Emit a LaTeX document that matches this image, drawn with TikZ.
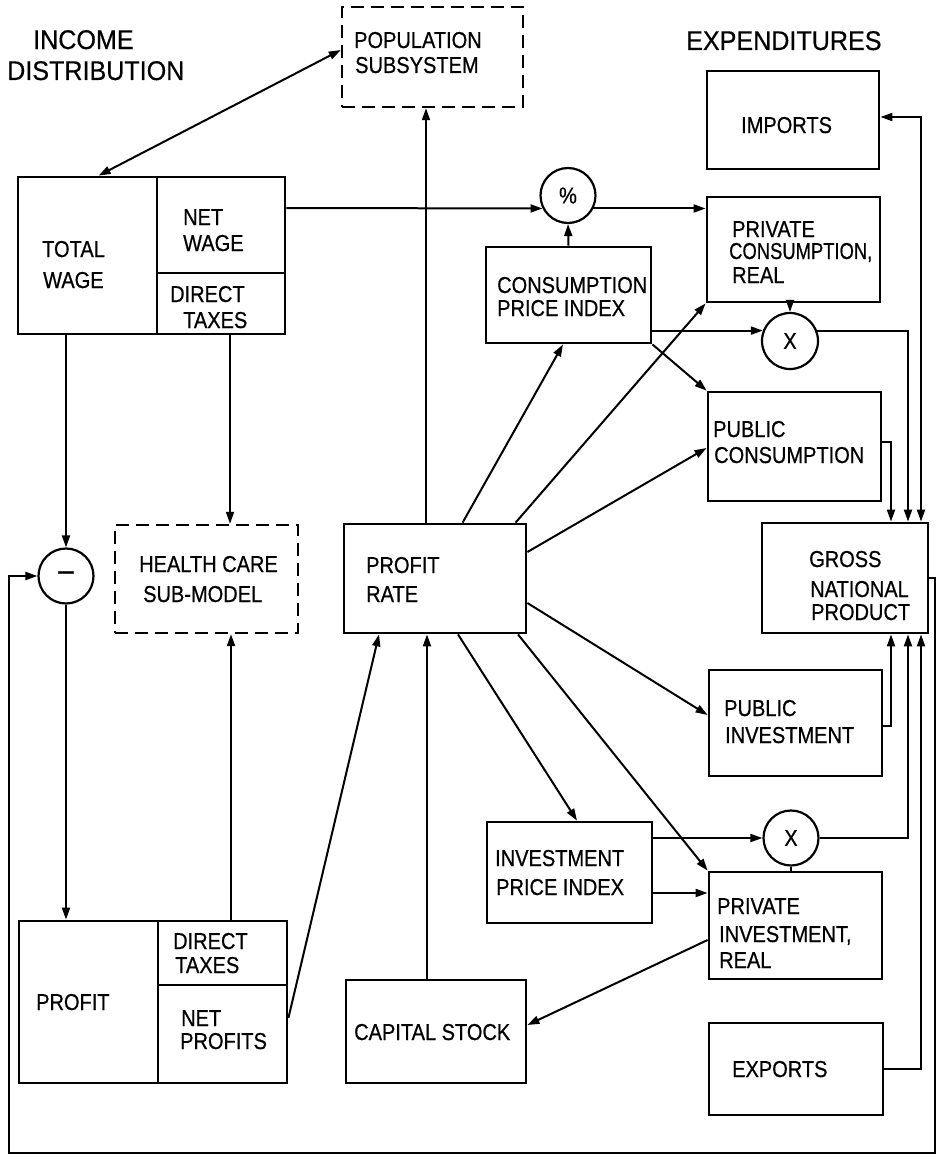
\documentclass[tikz,border=0pt]{standalone}
\usepackage{fontspec}
\usetikzlibrary{arrows.meta}
\newfontfamily\lblfont[FakeStretch=0.87,FakeBold=0.6]{Liberation Sans}
\newfontfamily\tightfont[FakeStretch=0.8,FakeBold=0.6]{Liberation Sans}
\newfontfamily\headfont[FakeStretch=0.93,FakeBold=0.4]{Liberation Sans}

% box from (x1,y1) to (x2,y2), y running downwards
\newcommand\mkbox[6][]{%
  \node[boxline,#1,minimum width={(#5-#3)*1pt},minimum height={(#6-#4)*1pt}]
    (#2) at ({(#3+#5)/2},{(#4+#6)/2}) {};}
% one line of lettering, placed by its left end on the baseline
\newcommand\mklbl[5][]{\node[lbl,#1] (#2) at (#3,#4) {#5};}

\begin{document}
\begin{tikzpicture}[x=1pt,y=-1pt,
  boxline/.style={draw,line width=2.8pt,inner sep=0pt},
  dashbox/.style={boxline,line width=2.4pt,dash pattern=on 13pt off 7pt},
  op/.style={draw,circle,line width=2.2pt,inner sep=0pt,minimum size=55pt,
    font=\lblfont\fontsize{23}{26}\selectfont},
  lbl/.style={anchor=base west,inner sep=0pt,font=\lblfont\fontsize{23}{26}\selectfont},
  tight/.style={font=\tightfont\fontsize{23}{26}\selectfont},
  big/.style={font=\headfont\fontsize{27}{30}\selectfont},
  >={Triangle[length=12pt,width=8pt]},
  conn/.style={line width=2pt},
  arr/.style={conn,->},
  darr/.style={conn,<->}]

\useasboundingbox (0,0) rectangle (943,1156);

% headings
\mklbl[big]{tInc}{33}{49}{INCOME}
\mklbl[big]{tDist}{7}{80}{DISTRIBUTION}
\mklbl[big]{tExp}{686}{50}{EXPENDITURES}

% boxes
\mkbox[dashbox]{pop}{342}{7}{523}{107}
\mkbox{imports}{707}{71}{879}{169}
\mkbox{totwage}{18}{177}{157}{334}
\mkbox{netwage}{157}{177}{285}{273}
\mkbox{wagetax}{157}{273}{285}{334}
\mkbox{privcons}{707}{197}{880}{302}
\mkbox{cpi}{486}{247}{651}{343}
\mkbox{pubcons}{708}{392}{881}{501}
\mkbox[dashbox]{health}{115}{525}{298}{633}
\mkbox{profrate}{344}{524}{526}{633}
\mkbox{gnp}{762}{523}{928}{633}
\mkbox{pubinv}{709}{670}{882}{776}
\mkbox{ipi}{487}{822}{652}{923}
\mkbox{privinv}{709}{872}{882}{979}
\mkbox{exports}{709}{1023}{883}{1115}
\mkbox{profit}{19}{921}{158}{1083}
\mkbox{proftax}{158}{921}{287}{985}
\mkbox{netprof}{158}{985}{287}{1083}
\mkbox{capital}{346}{980}{526}{1083}

% operators
\node[op] (pct) at (568,195.5) {\%};
\node[op,minimum size=56pt] (xc) at (790,341) {X};
\node[op] (xi) at (791,838) {X};
\node[op,font=\lblfont\fontsize{32}{32}\selectfont] (minus) at (66,576) {–};

% lettering
\mklbl{tPop1}{354}{48}{POPULATION}
\mklbl{tPop2}{355}{73}{SUBSYSTEM}
\mklbl{tImp}{741}{133}{IMPORTS}
\mklbl{tTw1}{42}{257}{TOTAL}
\mklbl{tTw2}{43}{288}{WAGE}
\mklbl{tNw1}{183}{225}{NET}
\mklbl{tNw2}{183}{251}{WAGE}
\mklbl{tWt1}{170}{302}{DIRECT}
\mklbl{tWt2}{183}{328}{TAXES}
\mklbl{tPc1}{732}{237}{PRIVATE}
\mklbl[tight]{tPc2}{729}{259}{CONSUMPTION,}
\mklbl{tPc3}{732}{283}{REAL}
\mklbl{tCpi1}{497}{293}{CONSUMPTION}
\mklbl{tCpi2}{497}{316}{PRICE INDEX}
\mklbl{tPuc1}{713}{437}{PUBLIC}
\mklbl{tPuc2}{714}{463}{CONSUMPTION}
\mklbl{tHc1}{139}{572}{HEALTH CARE}
\mklbl{tHc2}{143}{602}{SUB-MODEL}
\mklbl{tPr1}{366}{573}{PROFIT}
\mklbl{tPr2}{366}{602}{RATE}
\mklbl{tGnp1}{809}{567}{GROSS}
\mklbl{tGnp2}{810}{597}{NATIONAL}
\mklbl{tGnp3}{811}{620}{PRODUCT}
\mklbl{tPui1}{724}{716}{PUBLIC}
\mklbl{tPui2}{725}{743}{INVESTMENT}
\mklbl{tIpi1}{495}{866}{INVESTMENT}
\mklbl{tIpi2}{496}{895}{PRICE INDEX}
\mklbl{tPri1}{717}{914}{PRIVATE}
\mklbl{tPri2}{719}{942}{INVESTMENT,}
\mklbl{tPri3}{719}{968}{REAL}
\mklbl{tExpo}{732}{1077}{EXPORTS}
\mklbl{tProf}{36}{1010}{PROFIT}
\mklbl{tPt1}{173}{949}{DIRECT}
\mklbl{tPt2}{175}{973}{TAXES}
\mklbl{tNp1}{181}{1026}{NET}
\mklbl{tNp2}{180}{1049}{PROFITS}
\mklbl{tCap}{354}{1040}{CAPITAL STOCK}

% income distribution side
\draw[darr] ([xshift=82pt]totwage.north west) -- ([yshift=7pt]pop.west);
\draw[arr] ([yshift=17pt]netwage.east) -- (pct.207);
\draw[arr] (pct.333) -- (pct.333 -| privcons.west);
\draw[arr] (cpi.north) -- (pct.south);
\draw[arr] ([xshift=-9pt]profrate.north) -- ([xshift=-6.5pt]pop.south);
\draw[arr] (minus.north |- totwage.south) -- (minus.north);
\draw[arr] ([xshift=9pt]wagetax.south) -- ([xshift=23.5pt]health.north);
\draw[arr] (minus.south) -- (minus.south |- profit.north);
\draw[arr] ([xshift=8.5pt]proftax.north) -- ([xshift=24.5pt]health.south);
\draw[arr] ([yshift=16pt]netprof.east) -- ([xshift=-56pt]profrate.south);
\draw[arr] ([xshift=-9pt]capital.north) -- ([xshift=-8pt]profrate.south);

% from the profit rate
\draw[arr] ([xshift=120pt]profrate.north west) -- ([xshift=-5.5pt]cpi.south);
\draw[arr] ([xshift=173pt]profrate.north west) -- (privcons.south west);
\draw[arr] ([yshift=26.5pt]profrate.east) -- ([yshift=-1.5pt]pubcons.west);
\draw[arr] ([yshift=-24.5pt]profrate.east) -- ([yshift=8pt]pubinv.west);
\draw[arr] ([xshift=23pt]profrate.south) -- ([xshift=7.5pt]ipi.north);
\draw[arr] ([xshift=83pt]profrate.south) -- (privinv.north west);

% prices and real quantities
\draw[arr] (cpi.south east) -- (pubcons.north west);
\draw[arr] (xc.north |- privcons.south) -- (xc.north);
\draw[arr] (cpi.east |- xc.159) -- (xc.159);
\draw[arr] (ipi.east |- xi.west) -- (xi.west);
\draw[conn] (xi.south) -- (xi.south |- privinv.north);
\draw[arr] ([yshift=-20.5pt]ipi.east) -- ([yshift=32.5pt]privinv.west);
\draw[arr] ([yshift=-14.5pt]privinv.west) -- ([yshift=6.5pt]capital.east);

% expenditures into the gross national product
\draw[arr] (xc.21) -| ([xshift=63pt]gnp.north);
\draw[arr] ([yshift=4.5pt]pubcons.east) -| ([xshift=46pt]gnp.north);
\draw[darr] ([yshift=3pt]imports.east) -| ([xshift=76pt]gnp.north);
\draw[arr] ([yshift=-3pt]pubinv.east) -| ([xshift=46pt]gnp.south);
\draw[arr] (xi.east) -| ([xshift=63pt]gnp.south);
\draw[arr] (exports.east) -| ([xshift=76pt]gnp.south);

% feedback of the national product to the wage side
\coordinate (fbR) at (935,1153);
\coordinate (fbL) at (9,1153);
\draw[arr] (gnp.east) -| (fbR) -- (fbL) |- (minus.west);

\end{tikzpicture}
\end{document}
